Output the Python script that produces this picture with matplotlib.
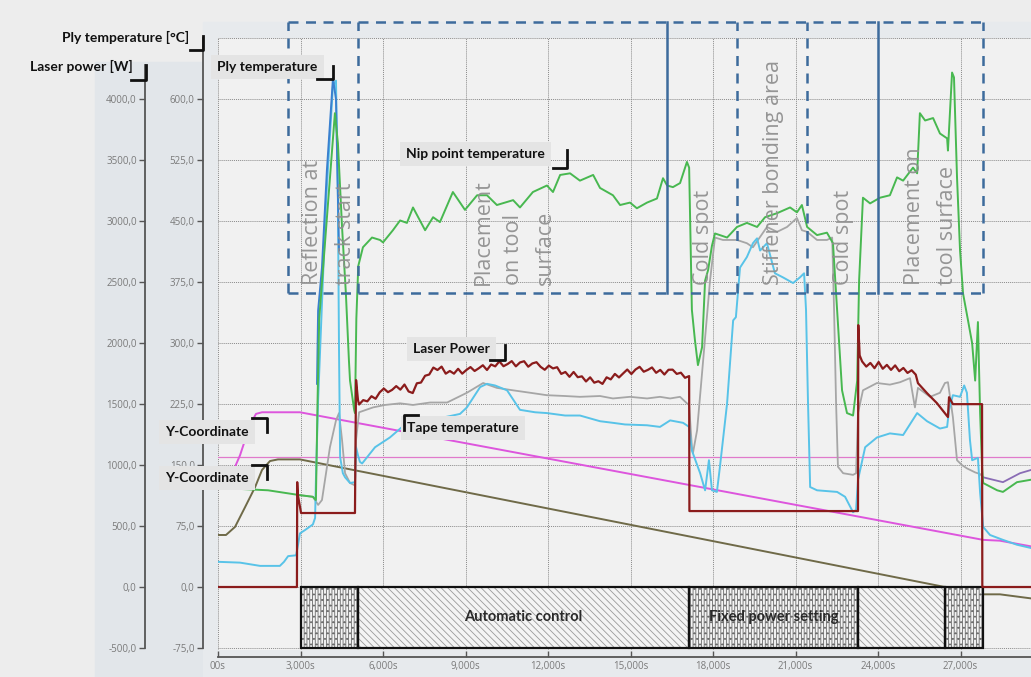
import numpy as np
import matplotlib.pyplot as plt
from matplotlib.patches import Rectangle
from matplotlib.lines import Line2D

# ---- data (time in s, temperatures in degC, laser power in W) ----
nip_t = [0, 1820, 2980, 3450, 3560, 3620, 3680, 4250, 4360, 4510,
         4650, 4760, 4800, 4950, 4980, 5030, 5100, 5270, 5600, 5890,
         6000, 6360, 6620, 6870, 7090, 7530, 7820, 8070, 8540, 8980,
         9420, 9780, 10140, 10730, 10980, 11450, 11960, 12180, 12440, 12800,
         13160, 13640, 13890, 14360, 14620, 14980, 15230, 15600, 15960, 16180,
         16330, 16540, 16800, 17050, 17130, 17230, 17340, 17450, 17600, 17710,
         17820, 17960, 18070, 18510, 18870, 19230, 19600, 19890, 20330, 20800,
         21050, 21230, 21420, 21780, 22140, 22360, 22510, 22690, 22870, 23090,
         23240, 23310, 23450, 23710, 24070, 24430, 24690, 24910, 25270, 25420,
         25520, 25710, 26000, 26250, 26510, 26540, 26690, 26760, 26870, 26980,
         27090, 27270, 27420, 27530, 27630, 27710, 27780, 27820, 28330, 28540,
         29050, 29560]
nip_T = [122, 119, 113, 111, 107, 230, 330, 583, 546, 443,
         361, 279, 254, 218, 214, 330, 395, 418, 430, 427,
         424, 439, 451, 448, 467, 439, 455, 449, 486, 464,
         482, 482, 470, 476, 467, 486, 494, 486, 507, 509,
         500, 507, 491, 482, 470, 473, 466, 473, 478, 503,
         494, 492, 497, 523, 516, 341, 304, 273, 295, 377,
         390, 420, 435, 430, 443, 448, 443, 455, 460, 467,
         461, 470, 443, 433, 436, 423, 341, 242, 214, 211,
         254, 377, 479, 472, 479, 482, 504, 500, 516, 509,
         583, 574, 577, 558, 552, 537, 633, 627, 504, 414,
         361, 328, 300, 254, 326, 214, 148, 128, 119, 117,
         129, 132]

tape_t = [0, 800, 1530, 2250, 2400, 2550, 2840, 2910, 2980, 3160,
          3450, 3530, 3560, 3640, 3930, 4180, 4290, 4360, 4400, 4440,
          4540, 4620, 4800, 4980, 5020, 5090, 5160, 5240, 5710, 6250,
          6730, 7710, 8800, 9050, 9530, 9780, 10070, 10510, 10980, 11530,
          11960, 12620, 13160, 13890, 14360, 14800, 15600, 16070, 16440, 16910,
          17130, 17230, 17530, 17710, 17850, 17960, 18140, 18250, 18510, 18730,
          18830, 18980, 19230, 19450, 19600, 19710, 19960, 20250, 20540, 20910,
          21160, 21310, 21380, 21450, 21530, 21780, 22510, 22800, 23090, 23200,
          23270, 23530, 23960, 24430, 24910, 25420, 25780, 26250, 26510, 26580,
          26720, 26980, 27130, 27230, 27340, 27420, 27630, 27710, 27820, 28070,
          28540, 29050, 29560]
tape_T = [31, 30, 26, 26, 31, 38, 39, 52, 66, 70,
          77, 85, 132, 230, 476, 617, 623, 476, 291, 160,
          140, 135, 128, 129, 172, 162, 154, 152, 172, 184,
          198, 205, 213, 221, 246, 250, 248, 242, 218, 215,
          214, 211, 211, 204, 202, 200, 199, 197, 205, 202,
          197, 168, 140, 119, 156, 119, 117, 148, 226, 328,
          332, 393, 406, 423, 429, 414, 423, 386, 381, 374,
          381, 386, 341, 230, 123, 119, 117, 111, 92, 95,
          132, 172, 184, 189, 187, 214, 204, 195, 197, 218,
          236, 234, 248, 239, 181, 156, 159, 116, 74, 64,
          58, 52, 48]

ply_t = [3600, 3640, 3780, 3960, 4180, 4290, 4400]
ply_T = [250, 340, 393, 513, 626, 600, 414]

gray_t = [2980, 3450, 3640, 3780, 4070, 4290, 4400, 4510, 4620, 4800,
          4980, 5020, 5130, 5640, 6070, 6620, 7090, 7710, 8330, 9050,
          9640, 10140, 10730, 11350, 11960, 12620, 13160, 13890, 14360, 14980,
          15600, 16070, 16440, 16800, 17050, 17130, 17230, 17270, 17420, 17640,
          17890, 18070, 18360, 18870, 19230, 19450, 19960, 20330, 20690, 21050,
          21230, 21420, 21780, 22140, 22330, 22400, 22470, 22540, 22730, 23090,
          23200, 23270, 23450, 23960, 24430, 24800, 25160, 25340, 25450, 25890,
          26250, 26430, 26540, 26720, 26870, 27050, 27230, 27530, 27710, 27820]
gray_T = [113, 111, 101, 107, 172, 205, 214, 181, 140, 128,
          125, 181, 215, 221, 224, 226, 224, 227, 227, 239,
          251, 245, 242, 239, 236, 235, 234, 235, 232, 234,
          232, 234, 232, 234, 226, 224, 172, 165, 193, 279,
          377, 430, 427, 427, 423, 418, 443, 437, 443, 454,
          439, 437, 427, 427, 430, 341, 230, 148, 140, 138,
          140, 214, 242, 251, 249, 252, 257, 221, 245, 234,
          239, 251, 252, 209, 156, 150, 146, 141, 139, 135]

purple_t = [27820, 28540, 29160, 29560]
purple_T = [135, 129, 140, 144]

# laser power [W]
lp_start_t = [0, 2870, 2880, 2900, 3020, 4980, 5000, 5020, 5090]
lp_start_w = [0, 0, 860, 760, 607, 607, 1200, 1697, 1533]
lp_auto_w = [1497, 1533, 1523, 1565, 1544, 1597, 1628, 1598, 1617, 1648,
             1619, 1661, 1604, 1591, 1671, 1677, 1733, 1743, 1800, 1780,
             1808, 1750, 1772, 1750, 1790, 1750, 1780, 1804, 1772, 1794,
             1819, 1780, 1825, 1810, 1851, 1811, 1829, 1853, 1810, 1842,
             1852, 1807, 1834, 1844, 1806, 1782, 1816, 1793, 1803, 1748,
             1764, 1724, 1764, 1721, 1728, 1686, 1720, 1676, 1688, 1666,
             1720, 1703, 1748, 1719, 1752, 1784, 1747, 1784, 1806, 1766,
             1781, 1801, 1757, 1781, 1743, 1782, 1783, 1748, 1758, 1716,
             1730]
lp_fixed_t = [17140, 23270, 23280, 23330]
lp_fixed_w = [623, 623, 2148, 1900]
lp_auto2_w = [1850, 1808, 1838, 1795, 1846, 1790, 1822, 1781, 1818, 1770,
              1797, 1756, 1778, 1742]
lp_end_t = [25450, 25780, 26140, 26540, 26580, 26720, 27780, 27790, 29560]
lp_end_w = [1672, 1590, 1508, 1394, 1557, 1500, 1500, 0, 0]

ycoord1_t = [0, 440, 800, 1160, 1380, 1600, 2980, 27820, 28430, 29560]
ycoord1_v = [125, 134, 162, 199, 213, 215, 215, 58, 57, 50]
ycoord2_t = [0, 290, 620, 980, 1350, 1600, 1890, 2180, 2980, 26430, 27820, 28430, 29560]
ycoord2_v = [64, 64, 74, 98, 123, 144, 155, 157, 157, 0, -9, -9, -14]
ref_level = 160

# process regions
region_edges = [2545, 5090, 16330, 18870, 21420, 24000, 27820]
region_styles = ['--', '--', '-', '--', '--', '-', '--']
region_top, region_bottom = 695, 361.5
region_text = [(3450, "Reflection at"), (4620, "track start"),
               (9640, "Placement"), (10760, "on tool"), (11890, "surface"),
               (17640, "Cold spot"), (20180, "Stiffener bonding area"),
               (22730, "Cold spot"), (25340, "Placement on"), (26510, "tool surface")]

control_segments = [(3000, 5090, 'dense'), (5090, 17130, 'diag'),
                    (17130, 23270, 'dense'), (23270, 26440, 'diag'),
                    (26440, 27820, 'dense')]
control_labels = [(11110, "Automatic control"), (20200, "Fixed power setting")]

xticks = [0, 3000, 6000, 9000, 12000, 15000, 18000, 21000, 24000, 27000]
xticklabels = ["00s", "3,000s", "6,000s", "9,000s", "12,000s", "15,000s",
               "18,000s", "21,000s", "24,000s", "27,000s"]
temp_ticks = [-75, 0, 75, 150, 225, 300, 375, 450, 525, 600]
power_ticks = [-500, 0, 500, 1000, 1500, 2000, 2500, 3000, 3500, 4000]

# ---- figure ----
W, H = 1031, 677
plt.rcParams['hatch.linewidth'] = 0.6
fig = plt.figure(figsize=(W / 100, H / 100), dpi=100, facecolor='#ededed')


def fx(x):
    return x / W


def fy(y):
    return 1 - y / H


fig.patches.append(Rectangle((fx(95), 0), fx(203) - fx(95), fy(62),
                             transform=fig.transFigure, color='#e2e6ea', zorder=-5))
fig.patches.append(Rectangle((fx(203), 0), 1 - fx(203), fy(22),
                             transform=fig.transFigure, color='#e7eaed', zorder=-5))

pos = [fx(218), fy(650), 1 - fx(218), fy(38) - fy(650)]
ax = fig.add_axes(pos, facecolor='#f1f1f1')
ymin, ymax = -77.5, 675.5
ax.set_xlim(0, 29560)
ax.set_ylim(ymin, ymax)

ax2 = fig.add_axes(pos)
ax2.patch.set_visible(False)
ax2.set_xlim(0, 29560)
ax2.set_ylim(ymin * 4000 / 600, ymax * 4000 / 600)

# grid
ax.set_xticks(xticks)
ax.set_yticks(temp_ticks)
ax.grid(True, color='#8a8a8a', linestyle=(0, (1, 1)), linewidth=0.7)
ax.axhline(675, color='#8a8a8a', linestyle=(0, (1, 1)), linewidth=0.7)
ax.set_axisbelow(True)

# curves
ax.plot([0, 29560], [ref_level, ref_level], color='#e07acb', lw=0.9, zorder=2)
ax.plot(ycoord2_t, ycoord2_v, color='#6f6a48', lw=1.4, zorder=2)
ax.plot(ycoord1_t, ycoord1_v, color='#dd55dd', lw=1.4, zorder=2)
ax.plot(gray_t, gray_T, color='#a6a6a6', lw=1.3, zorder=3)
ax.plot(purple_t, purple_T, color='#8a6cb5', lw=1.3, zorder=3)
ax.plot(tape_t, tape_T, color='#58c3e8', lw=1.4, zorder=3)
ax.plot(ply_t, ply_T, color='#3a80cf', lw=1.4, zorder=4)
ax.plot(nip_t, nip_T, color='#48b850', lw=1.4, zorder=4)

lp_t = (lp_start_t + list(np.linspace(5130, 17130, len(lp_auto_w))) + lp_fixed_t
        + list(np.linspace(23420, 25370, len(lp_auto2_w))) + lp_end_t)
lp_w = lp_start_w + lp_auto_w + lp_fixed_w + lp_auto2_w + lp_end_w
ax2.plot(lp_t, lp_w, color='#8b1c1c', lw=1.6, zorder=3)

# control bar
for t0, t1, kind in control_segments:
    hatch = '||||||...' if kind == 'dense' else '\\\\\\\\\\'
    ec = '#6a6a6a' if kind == 'dense' else '#9a9a9a'
    ax.add_patch(Rectangle((t0, -75), t1 - t0, 75, facecolor='#f4f4f4',
                           edgecolor=ec, hatch=hatch, lw=0, zorder=5))
    ax.add_patch(Rectangle((t0, -75), t1 - t0, 75, facecolor='none',
                           edgecolor='#111111', lw=1.6, zorder=6))
for tc, label in control_labels:
    ax.text(tc, -37.5, label, ha='center', va='center', fontsize=10.5,
            family='Lato', weight='bold', color='#2a2a2a', zorder=7)

# region boxes
rc = '#3d6b9c'
for t, ls in zip(region_edges, region_styles):
    ax.plot([t, t], [region_bottom, region_top], color=rc, lw=1.8,
            linestyle=(0, (4, 3)) if ls == '--' else '-', clip_on=False, zorder=8)
for yv in (region_top, region_bottom):
    ax.plot([region_edges[0], region_edges[-1]], [yv, yv], color=rc, lw=1.8,
            linestyle=(0, (4, 3)), clip_on=False, zorder=8)
for t, txt in region_text:
    ax.text(t, 372, txt, rotation=90, ha='center', va='bottom', fontsize=15.5,
            family='Open Sans', color='#909090', alpha=0.95, zorder=9)

# axes styling
for a in (ax, ax2):
    a.spines['top'].set_visible(False)
    a.spines['right'].set_visible(False)
ax2.spines['bottom'].set_visible(False)
ax2.xaxis.set_visible(False)

ax.spines['left'].set_position(('outward', 15 * 0.72))
ax.spines['left'].set_bounds(-75, 675)
ax.spines['left'].set_color('#555555')
ax.spines['left'].set_linewidth(1.3)
ax.spines['bottom'].set_position(('outward', 7 * 0.72))
ax.spines['bottom'].set_color('#555555')
ax.spines['bottom'].set_linewidth(1.3)

ax2.spines['left'].set_position(('outward', 73 * 0.72))
ax2.spines['left'].set_bounds(-500, 4280)
ax2.spines['left'].set_color('#555555')
ax2.spines['left'].set_linewidth(1.3)
ax2.set_yticks(power_ticks)

ax.set_yticklabels([f"{v:.1f}".replace('.', ',') for v in temp_ticks])
ax2.set_yticklabels([f"{v:.1f}".replace('.', ',') for v in power_ticks])
ax.set_xticklabels(xticklabels)
for a in (ax, ax2):
    a.tick_params(axis='y', length=4, width=1, color='#555555', labelsize=7,
                  labelcolor='#7a7a7a', pad=2)
    for lab in a.get_yticklabels():
        lab.set_family('Open Sans')
ax.tick_params(axis='x', direction='in', length=4, width=1, color='#555555',
               labelsize=7, labelcolor='#7a7a7a', pad=3)
for lab in ax.get_xticklabels():
    lab.set_family('Open Sans')

# annotation labels with corner brackets (figure pixel positions)
notes = [
    ("Ply temperature [°C]", 62, 37, False, [(190, 50), (203, 50), (203, 36)]),
    ("Laser power [W]", 30, 66, False, [(131, 80), (146, 80), (146, 65)]),
    ("Ply temperature", 217, 67, True, [(317, 79), (333, 79), (333, 66)]),
    ("Nip point temperature", 406, 154, True, [(553, 168), (567, 168), (567, 150)]),
    ("Laser Power", 413, 349, True, [(490, 360), (505, 360), (505, 345)]),
    ("Tape temperature", 407, 428, True, [(418, 415), (404, 415), (404, 430)]),
    ("Y-Coordinate", 165, 432, True, [(252, 418), (267, 418), (267, 432)]),
    ("Y-Coordinate", 165, 478, True, [(252, 465), (267, 465), (267, 479)]),
]
for txt, x, y, boxed, br in notes:
    kw = {}
    if boxed:
        kw['bbox'] = dict(boxstyle='square,pad=0.45', fc='#e4e4e4', ec='none')
    fig.text(fx(x), fy(y), txt, ha='left', va='center', fontsize=10,
             family='Lato', weight='bold', color='#111111', zorder=20, **kw)
    fig.add_artist(Line2D([fx(p[0]) for p in br], [fy(p[1]) for p in br],
                          color='#111111', lw=2, zorder=21))

fig.savefig('out.png', dpi=100, facecolor=fig.get_facecolor())
